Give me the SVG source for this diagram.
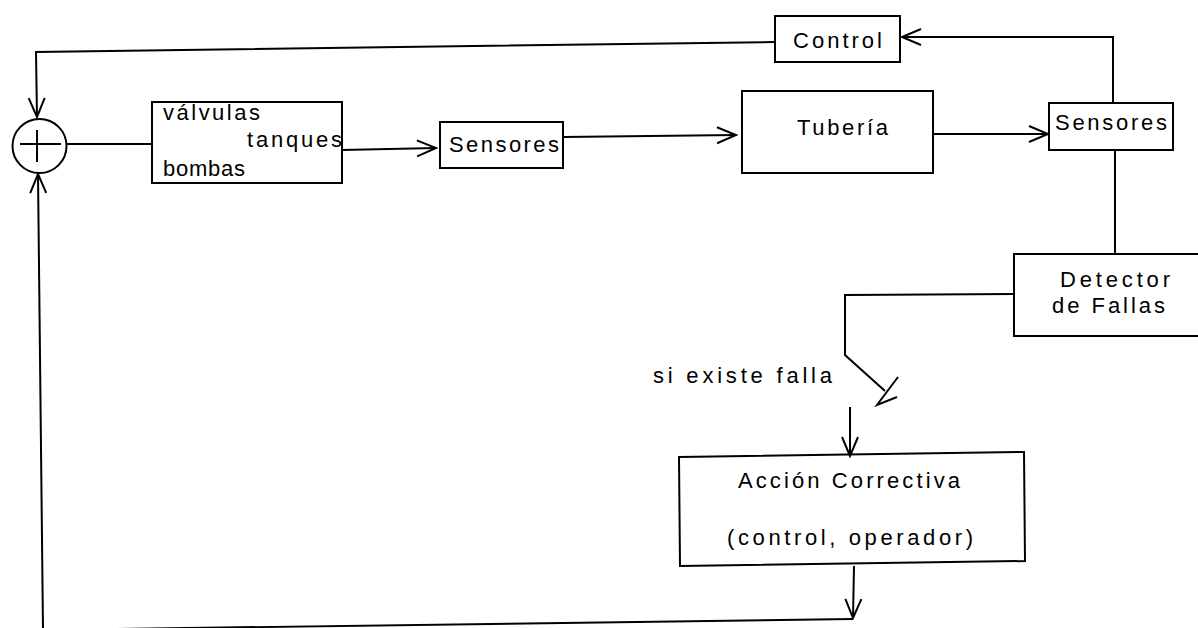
<svg xmlns="http://www.w3.org/2000/svg" width="1198" height="628" viewBox="0 0 1198 628">
<style>
.box{fill:none;stroke:#000;stroke-width:2}
.ln{fill:none;stroke:#000;stroke-width:2;stroke-linejoin:miter}
.t{font-family:"Liberation Sans",Arial,sans-serif;font-size:22px;fill:#000}
</style>
<defs>
<marker id="v" markerUnits="userSpaceOnUse" viewBox="-22 -10 24 20" markerWidth="24" markerHeight="20" refX="0" refY="0" orient="auto">
<path d="M-19,-8 L0,0 L-19,8" fill="none" stroke="#000" stroke-width="2"/>
</marker>
</defs>
<rect width="1198" height="628" fill="#fff"/>
<g id="connectors">
<path class="ln" d="M775,42 L36,52 L37,117" marker-end="url(#v)"/>
<path class="ln" d="M43,630 L38,174" marker-end="url(#v)"/>
<path class="ln" d="M67,144 L152,144"/>
<path class="ln" d="M342,150 L436,148" marker-end="url(#v)"/>
<path class="ln" d="M563,137 L736,135" marker-end="url(#v)"/>
<path class="ln" d="M933,134 L1048,134" marker-end="url(#v)"/>
<path class="ln" d="M1113,103 L1113,37 L902,37" marker-end="url(#v)"/>
<path class="ln" d="M1115,150 L1115,254"/>
<path class="ln" d="M1014,294 L845,295 L845,355 L885,391"/>
<path class="ln" d="M898,377 L877,405 L897,397"/>
<path class="ln" d="M850,407 L850,456" marker-end="url(#v)"/>
<path class="ln" d="M854,566 L853,618" marker-end="url(#v)"/>
<path class="ln" d="M43,630 L853,619"/>
</g>
<g id="n-sum">
<circle class="box" cx="39.5" cy="146" r="27"/>
<path class="ln" d="M20,144 L61,144 M37,130 L37,162"/>
</g>
<g id="n-valvulas">
<rect class="box" x="152" y="102" width="190" height="81"/>
<text class="t" x="163" y="120" textLength="97" lengthAdjust="spacing">válvulas</text>
<text class="t" x="247" y="147" textLength="95" lengthAdjust="spacing">tanques</text>
<text class="t" x="163" y="176" textLength="82" lengthAdjust="spacing">bombas</text>
</g>
<g id="n-sensores1">
<rect class="box" x="440" y="122" width="123" height="46"/>
<text class="t" x="449" y="152" textLength="110" lengthAdjust="spacing">Sensores</text>
</g>
<g id="n-tuberia">
<rect class="box" x="742" y="91" width="191" height="82"/>
<text class="t" x="797" y="135" textLength="91" lengthAdjust="spacing">Tubería</text>
</g>
<g id="n-sensores2">
<rect class="box" x="1049" y="103" width="124" height="47"/>
<text class="t" x="1055" y="130" textLength="112" lengthAdjust="spacing">Sensores</text>
</g>
<g id="n-control">
<rect class="box" x="775" y="16" width="125" height="46"/>
<text class="t" x="793" y="48" textLength="89" lengthAdjust="spacing">Control</text>
</g>
<g id="n-detector">
<rect class="box" x="1014" y="254" width="200" height="82"/>
<text class="t" x="1060" y="287" textLength="110" lengthAdjust="spacing">Detector</text>
<text class="t" x="1052" y="313" textLength="113" lengthAdjust="spacing">de Fallas</text>
</g>
<g id="label-falla">
<text class="t" x="653" y="383" textLength="179" lengthAdjust="spacing">si existe falla</text>
</g>
<g id="n-accion">
<path class="box" d="M679,457 L1024,452 L1025,561 L680,566 Z"/>
<text class="t" x="738" y="488" textLength="222" lengthAdjust="spacing">Acción Correctiva</text>
<text class="t" x="727" y="545" textLength="246" lengthAdjust="spacing">(control, operador)</text>
</g>
</svg>
